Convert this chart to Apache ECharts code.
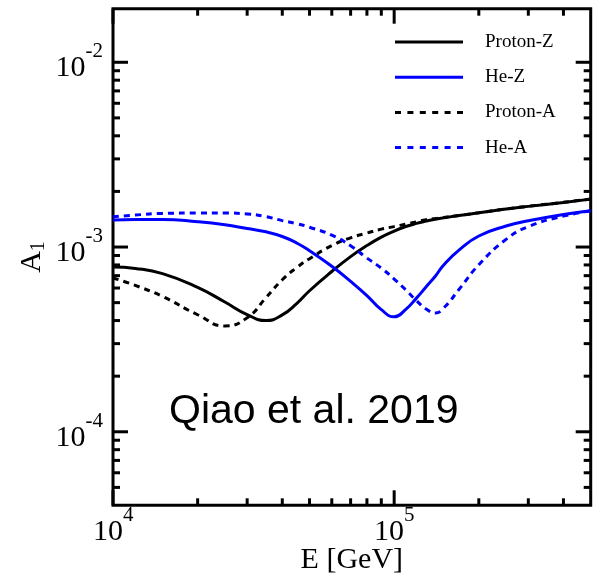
<!DOCTYPE html>
<html>
<head>
<meta charset="utf-8">
<script src="https://cdn.jsdelivr.net/npm/echarts@6/dist/echarts.min.js"></script>
<style>
  html, body { margin: 0; padding: 0; background: #fff; }
  #chart { width: 593px; height: 574px; }
</style>
</head>
<body>
<div id="chart"></div>
<script>
// Energy grid (GeV)
const energy = [1e4, 1.2e4, 1.5e4, 2e4, 2.5e4, 3e4, 3.5e4, 4e4, 4.5e4, 5e4, 6e4, 7e4, 8e4, 9e4,
                1e5, 1.1e5, 1.2e5, 1.3e5, 1.4e5, 1.5e5, 1.7e5, 2e5, 2.5e5, 3e5, 4e5, 5e5];

// Dipole amplitude A1 for each model
const protonZ = [7.8e-4, 7.66e-4, 7.18e-4, 6.05e-4, 5.04e-4, 4.31e-4, 4.0e-4, 4.29e-4, 4.94e-4, 5.8e-4, 7.37e-4, 8.87e-4, 1.019e-3, 1.132e-3,
                 1.221e-3, 1.291e-3, 1.343e-3, 1.382e-3, 1.414e-3, 1.438e-3, 1.48e-3, 1.531e-3, 1.605e-3, 1.66e-3, 1.744e-3, 1.817e-3];
const heZ     = [1.4e-3, 1.41e-3, 1.41e-3, 1.37e-3, 1.32e-3, 1.26e-3, 1.21e-3, 1.14e-3, 1.052e-3, 9.55e-4, 7.87e-4, 6.52e-4, 5.46e-4, 4.58e-4,
                 4.19e-4, 4.6e-4, 5.29e-4, 6.1e-4, 6.95e-4, 8.0e-4, 9.63e-4, 1.147e-3, 1.299e-3, 1.387e-3, 1.5e-3, 1.57e-3];
const protonA = [6.8e-4, 6.2e-4, 5.4e-4, 4.3e-4, 3.74e-4, 4.14e-4, 5.32e-4, 6.65e-4, 7.74e-4, 8.65e-4, 1.018e-3, 1.122e-3, 1.19e-3, 1.25e-3,
                 1.29e-3, 1.33e-3, 1.37e-3, 1.405e-3, 1.428e-3, 1.445e-3, 1.482e-3, 1.533e-3, 1.607e-3, 1.662e-3, 1.746e-3, 1.819e-3];
const heA     = [1.458e-3, 1.49e-3, 1.52e-3, 1.527e-3, 1.527e-3, 1.51e-3, 1.46e-3, 1.39e-3, 1.338e-3, 1.28e-3, 1.16e-3, 1.016e-3, 8.72e-4, 7.69e-4,
                 6.71e-4, 5.86e-4, 5.13e-4, 4.62e-4, 4.4e-4, 4.68e-4, 5.89e-4, 8.02e-4, 1.1e-3, 1.29e-3, 1.47e-3, 1.57e-3];

const seriesNames = ['Proton-Z', 'He-Z', 'Proton-A', 'He-A'];

// Axis ranges and tick positions
const xRange = [1e4, 5e5];
const yRange = [4e-5, 0.0195];
const xMajorTicks = [1e4, 1e5];
const xMinorTicks = [2e4, 3e4, 4e4, 5e4, 6e4, 7e4, 8e4, 9e4, 2e5, 3e5, 4e5];
const yMajorTicks = [1e-4, 1e-3, 1e-2];
const yMinorTicks = [5e-5, 6e-5, 7e-5, 8e-5, 9e-5,
                     2e-4, 3e-4, 4e-4, 5e-4, 6e-4, 7e-4, 8e-4, 9e-4,
                     2e-3, 3e-3, 4e-3, 5e-3, 6e-3, 7e-3, 8e-3, 9e-3];

const SERIF = 'Liberation Serif, Times New Roman, serif';
const BLUE = '#0000ff';

// Legend glyphs: a solid bar and a dashed bar
const SOLID_ICON = 'rect';
const DASH_ICON = 'path://M0,0h6v3h-6zM12.4,0h6v3h-6zM24.8,0h6v3h-6zM37.2,0h6v3h-6zM49.6,0h6v3h-6zM62,0h6v3h-6z';

function powerLabel(v) {
  const lg = Math.log10(v);
  const e = Math.round(lg);
  if (Math.abs(lg - e) > 1e-6) return '';
  return '{h| }{b|10}{s|' + e + '}';
}
const powerRich = {
  h: { fontSize: 1, lineHeight: 42 },
  b: { fontFamily: SERIF, fontSize: 30, color: '#000', lineHeight: 29, verticalAlign: 'bottom' },
  s: { fontFamily: SERIF, fontSize: 21, color: '#000', lineHeight: 28, verticalAlign: 'top' }
};

function toPairs(ys) { return energy.map((e, i) => [e, ys[i]]); }

function tickRenderer(isX) {
  return function (params, api) {
    const cs = params.coordSys;
    const p = api.coord([api.value(0), api.value(1)]);
    const len = api.value(2) ? 15 : 7;
    const style = { stroke: '#000', lineWidth: 3 };
    if (isX) {
      const x = p[0];
      return { type: 'group', children: [
        { type: 'line', shape: { x1: x, y1: cs.y + cs.height, x2: x, y2: cs.y + cs.height - len }, style },
        { type: 'line', shape: { x1: x, y1: cs.y, x2: x, y2: cs.y + len }, style }
      ]};
    }
    const y = p[1];
    return { type: 'group', children: [
      { type: 'line', shape: { x1: cs.x, y1: y, x2: cs.x + len, y2: y }, style },
      { type: 'line', shape: { x1: cs.x + cs.width, y1: y, x2: cs.x + cs.width - len, y2: y }, style }
    ]};
  };
}

const xTickData = xMajorTicks.map(v => [v, yRange[0], 1]).concat(xMinorTicks.map(v => [v, yRange[0], 0]));
const yTickData = yMajorTicks.map(v => [xRange[0], v, 1]).concat(yMinorTicks.map(v => [xRange[0], v, 0]));

function lineSeries(name, ys, color, dashed) {
  return {
    name, type: 'line', data: toPairs(ys),
    symbol: 'none', showSymbol: false, smooth: 0.5,
    lineStyle: { color, width: 3, type: dashed ? [6, 5] : 'solid', cap: 'butt' },
    itemStyle: { color },
    z: 3
  };
}

const chart = echarts.init(document.getElementById('chart'), null, { renderer: 'canvas' });
chart.setOption({
  animation: false,
  backgroundColor: '#fff',
  grid: {
    left: 113, right: 2.3, top: 8.7, bottom: 68.7,
    show: true, borderColor: '#000', borderWidth: 3, backgroundColor: 'transparent',
    outerBoundsMode: 'none'
  },
  legend: {
    data: [
      { name: seriesNames[0], icon: SOLID_ICON },
      { name: seriesNames[1], icon: SOLID_ICON },
      { name: seriesNames[2], icon: DASH_ICON },
      { name: seriesNames[3], icon: DASH_ICON }
    ],
    orient: 'vertical',
    left: 395, top: 32,
    padding: 0,
    itemWidth: 68, itemHeight: 3, itemGap: 15.2,
    itemStyle: { borderWidth: 0 },
    textStyle: { fontFamily: SERIF, fontSize: 19, color: '#000', lineHeight: 20, padding: [0, 0, 0, 17] }
  },
  xAxis: {
    type: 'log', logBase: 10, min: xRange[0], max: xRange[1],
    axisLine: { show: false }, axisTick: { show: false }, splitLine: { show: false },
    axisLabel: { formatter: powerLabel, rich: powerRich, margin: 0, showMinLabel: true, showMaxLabel: true },
    name: 'E [GeV]', nameLocation: 'middle', nameGap: 40, nameMoveOverlap: false,
    nameTextStyle: { fontFamily: SERIF, fontSize: 30, color: '#000' }
  },
  yAxis: {
    type: 'log', logBase: 10, min: yRange[0], max: yRange[1],
    axisLine: { show: false }, axisTick: { show: false }, splitLine: { show: false },
    axisLabel: { formatter: powerLabel, rich: powerRich, margin: 10 },
    name: '{a|A}{u|1}', nameLocation: 'middle', nameGap: 64, nameRotate: 90, nameMoveOverlap: false,
    nameTextStyle: {
      rich: {
        a: { fontFamily: SERIF, fontSize: 30, color: '#000', lineHeight: 32, verticalAlign: 'top' },
        u: { fontFamily: SERIF, fontSize: 20, color: '#000', lineHeight: 22, verticalAlign: 'bottom' }
      }
    }
  },
  graphic: [{
    type: 'text', x: 169, y: 412,
    style: { text: 'Qiao et al. 2019', font: '41px "Liberation Sans", Arial, sans-serif', fill: '#000', verticalAlign: 'middle' }
  }],
  series: [
    lineSeries(seriesNames[0], protonZ, '#000', false),
    lineSeries(seriesNames[1], heZ, BLUE, false),
    lineSeries(seriesNames[2], protonA, '#000', true),
    lineSeries(seriesNames[3], heA, BLUE, true),
    { type: 'custom', name: 'xTicks', data: xTickData, renderItem: tickRenderer(true), silent: true, clip: false, z: 5 },
    { type: 'custom', name: 'yTicks', data: yTickData, renderItem: tickRenderer(false), silent: true, clip: false, z: 5 }
  ]
});
</script>
</body>
</html>
